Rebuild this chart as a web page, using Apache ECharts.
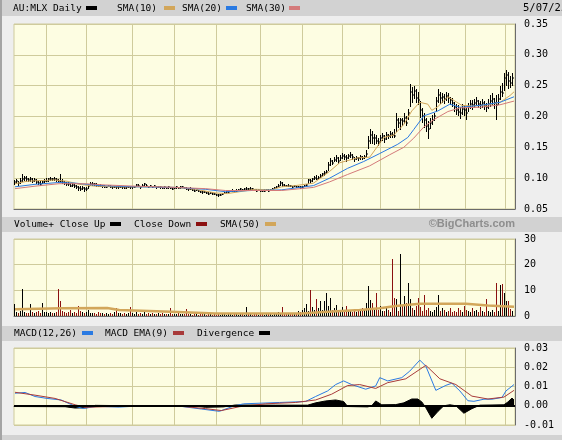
<!DOCTYPE html>
<html><head><meta charset="utf-8">
<script src="https://cdn.jsdelivr.net/npm/echarts@6/dist/echarts.min.js"></script>
<style>html,body{margin:0;padding:0;background:#eeeeee}#c{width:562px;height:440px}</style>
</head><body><div id="c"></div>
<script>
// ---- data ----
const monthStarts = [16,36,59,80,101,123,144,164,183,202,225,245];
const high = [
.097,.099,.096,.100,.107,.104,.103,.101,.102,.100,
.101,.098,.096,.095,.096,.099,.100,.101,.102,.101,
.102,.101,.099,.107,.099,.095,.094,.093,.092,.092,
.090,.089,.088,.087,.087,.086,.086,.091,.093,.093,
.092,.092,.091,.090,.089,.089,.088,.089,.089,.088,
.088,.087,.087,.088,.087,.086,.087,.088,.087,.087,
.088,.091,.090,.088,.090,.092,.091,.088,.089,.088,
.089,.088,.088,.087,.086,.087,.086,.087,.086,.085,
.086,.087,.086,.087,.088,.086,.085,.084,.085,.083,
.082,.083,.081,.080,.079,.080,.078,.077,.078,.077,
.076,.075,.074,.075,.076,.078,.079,.080,.081,.082,
.081,.082,.083,.084,.083,.084,.085,.084,.085,.084,
.083,.082,.083,.082,.081,.082,.083,.082,.083,.084,
.086,.088,.090,.095,.093,.090,.089,.090,.089,.088,
.089,.088,.088,.087,.088,.089,.091,.099,.099,.101,
.103,.105,.104,.107,.109,.111,.113,.126,.133,.130,
.135,.137,.134,.138,.141,.139,.137,.140,.142,.139,
.135,.136,.135,.137,.136,.138,.145,.168,.179,.176,
.172,.170,.165,.170,.174,.170,.175,.172,.176,.175,
.180,.206,.198,.198,.198,.205,.200,.212,.253,.248,
.250,.245,.240,.225,.214,.205,.198,.192,.198,.202,
.206,.232,.245,.240,.238,.236,.240,.238,.232,.230,
.224,.220,.218,.215,.220,.218,.214,.222,.226,.226,
.228,.232,.226,.225,.228,.225,.222,.228,.235,.238,
.230,.235,.236,.250,.255,.270,.276,.272,.265,.270];
const low = [
.089,.090,.088,.091,.093,.095,.094,.093,.094,.092,
.093,.090,.089,.088,.090,.092,.093,.094,.096,.095,
.096,.094,.093,.093,.090,.089,.088,.087,.085,.086,
.084,.083,.080,.079,.081,.078,.080,.083,.087,.088,
.087,.086,.085,.085,.084,.084,.084,.085,.084,.083,
.084,.083,.083,.084,.083,.082,.083,.084,.083,.083,
.084,.085,.085,.083,.085,.087,.086,.084,.085,.084,
.085,.083,.084,.083,.082,.083,.082,.083,.082,.081,
.082,.083,.082,.083,.084,.082,.081,.080,.081,.079,
.078,.079,.077,.076,.075,.076,.074,.073,.074,.073,
.072,.071,.070,.071,.072,.074,.075,.076,.077,.078,
.077,.078,.079,.080,.079,.080,.081,.080,.081,.080,
.079,.078,.079,.078,.077,.078,.079,.078,.079,.080,
.082,.084,.085,.087,.086,.086,.085,.086,.085,.084,
.085,.084,.084,.083,.084,.085,.086,.090,.091,.094,
.097,.097,.098,.100,.102,.104,.106,.112,.120,.121,
.126,.127,.123,.128,.131,.129,.127,.131,.133,.129,
.127,.129,.128,.130,.129,.131,.134,.148,.155,.155,
.153,.155,.152,.157,.160,.157,.162,.163,.165,.165,
.165,.175,.182,.178,.184,.188,.184,.195,.215,.222,
.228,.222,.218,.198,.190,.182,.175,.164,.180,.186,
.192,.208,.222,.220,.222,.220,.225,.222,.218,.215,
.208,.202,.200,.196,.203,.200,.195,.208,.212,.210,
.214,.217,.213,.212,.214,.210,.208,.212,.216,.218,
.212,.194,.218,.226,.232,.242,.250,.245,.246,.250];
const close = [
.093,.095,.092,.096,.098,.100,.099,.097,.098,.096,
.097,.094,.092,.091,.093,.095,.096,.098,.099,.098,
.099,.097,.096,.095,.094,.092,.091,.090,.088,.089,
.087,.086,.084,.083,.084,.082,.083,.088,.090,.091,
.090,.089,.088,.087,.087,.086,.086,.087,.086,.085,
.086,.085,.085,.086,.085,.084,.085,.086,.085,.085,
.086,.089,.087,.085,.088,.090,.088,.086,.087,.086,
.087,.085,.086,.085,.084,.085,.084,.085,.084,.083,
.084,.085,.084,.085,.086,.084,.083,.082,.083,.081,
.080,.081,.079,.078,.077,.078,.076,.075,.076,.075,
.074,.073,.072,.073,.074,.076,.077,.078,.079,.080,
.079,.080,.081,.082,.081,.082,.083,.082,.083,.082,
.081,.080,.081,.080,.079,.080,.081,.080,.081,.082,
.084,.086,.088,.092,.089,.088,.087,.088,.087,.086,
.087,.086,.086,.085,.086,.087,.089,.097,.095,.098,
.100,.099,.101,.104,.106,.108,.110,.122,.128,.125,
.130,.132,.128,.133,.136,.134,.132,.136,.138,.134,
.131,.133,.132,.134,.133,.135,.140,.160,.170,.165,
.165,.160,.158,.165,.168,.163,.170,.168,.172,.170,
.168,.195,.190,.194,.192,.198,.190,.205,.240,.235,
.242,.230,.226,.210,.200,.195,.185,.180,.190,.195,
.200,.225,.235,.230,.232,.228,.234,.230,.226,.222,
.215,.210,.208,.205,.212,.210,.205,.215,.220,.218,
.222,.225,.220,.218,.222,.217,.215,.220,.225,.228,
.222,.218,.228,.240,.238,.262,.268,.258,.255,.262];
const volume = [
4.8,1.5,1.2,2.0,10.7,1.6,1.3,1.1,4.5,1.4,
1.2,1.5,1.8,1.3,5.2,1.7,1.4,1.2,1.6,1.1,
1.3,1.4,10.7,6.0,1.8,1.5,1.2,1.6,2.2,1.3,
1.5,1.2,3.9,1.8,1.4,1.1,1.6,2.5,1.3,1.0,
1.2,0.9,1.4,1.1,1.0,0.8,1.3,0.9,1.2,0.8,
1.4,3.2,1.0,1.3,0.9,1.1,0.8,1.2,3.4,1.0,
0.9,1.5,0.8,1.1,0.9,1.4,0.7,1.0,0.8,1.2,
0.9,0.7,1.0,0.8,1.1,0.6,0.9,0.8,3.0,0.7,
0.8,0.6,1.0,0.7,0.9,0.6,2.6,0.8,0.7,0.5,
0.6,0.8,0.5,0.7,0.6,0.9,0.5,0.6,0.7,0.4,
0.6,0.5,0.7,0.4,0.6,0.8,0.5,0.7,0.6,0.5,
0.7,0.6,0.5,0.8,0.6,0.5,3.6,0.7,0.6,0.5,
0.6,0.8,0.5,0.7,0.6,0.5,0.7,0.6,0.8,0.5,
0.9,1.2,1.5,1.0,3.5,0.8,1.1,0.9,1.3,0.7,
1.0,1.3,2.0,1.5,2.5,3.0,4.5,2.0,10.0,3.5,
2.5,6.7,3.0,5.8,2.2,5.8,8.8,4.0,7.0,2.5,
3.0,4.3,2.0,1.5,3.5,2.0,4.0,1.8,2.5,1.5,
2.0,1.5,2.5,1.8,3.0,2.2,5.0,11.6,6.1,5.0,
3.0,8.8,2.5,4.0,2.0,1.8,3.0,2.5,1.5,22.3,
7.1,6.5,2.0,24.0,4.0,7.8,5.0,12.7,6.7,3.0,
2.5,4.0,7.1,3.5,2.0,8.0,2.5,3.0,2.0,1.5,
2.5,3.5,8.0,2.0,3.0,2.5,1.5,2.0,3.0,1.5,
2.0,1.5,3.0,2.5,1.5,4.0,2.5,2.0,1.5,3.0,
2.0,2.5,1.5,3.5,2.0,1.5,6.7,2.0,1.5,2.5,
1.5,12.7,2.0,11.9,12.3,9.0,5.8,6.0,2.6,2.0];
// indicator lines read at sampled days: [dayIndex, value]
const sma10 = [[0,.091],[6,.095],[12,.096],[20,.097],[26,.095],[32,.090],[40,.087],[50,.086],[60,.086],[70,.086],[80,.085],[90,.082],[100,.076],[106,.075],[112,.078],[120,.082],[128,.081],[133,.086],[140,.088],[149,.092],[157,.111],[162,.125],[171,.133],[177,.134],[181,.152],[184,.166],[189,.170],[194,.187],[198,.209],[202,.223],[206,.220],[208,.210],[211,.216],[216,.232],[219,.226],[223,.218],[229,.217],[236,.219],[242,.223],[247,.234],[249,.240]];
const sma20 = [[0,.086],[10,.090],[22,.093],[30,.092],[42,.088],[60,.086],[80,.085],[95,.082],[105,.078],[118,.080],[133,.081],[149,.088],[157,.100],[166,.116],[174,.127],[182,.140],[191,.155],[196,.166],[199,.179],[204,.201],[211,.209],[217,.220],[222,.215],[232,.218],[242,.223],[249,.232]];
const sma30 = [[0,.083],[10,.087],[22,.091],[35,.091],[45,.089],[60,.087],[80,.085],[95,.083],[105,.080],[118,.080],[133,.080],[149,.085],[157,.094],[166,.106],[177,.120],[187,.138],[194,.150],[199,.165],[204,.183],[209,.195],[216,.208],[222,.214],[232,.215],[242,.219],[249,.225]];
const volSma50 = [[0,2.6],[23,3.0],[46,3.1],[52,2.3],[78,1.7],[100,1.0],[143,1.0],[154,1.6],[172,2.3],[182,3.0],[190,3.9],[202,4.8],[225,4.8],[236,4.1],[249,3.6]];
const macd = [[0,.0065],[5,.0069],[10,.0048],[16,.0038],[23,.0030],[30,-.0003],[34,-.0014],[41,-.0003],[52,-.0007],[64,.0000],[82,-.0002],[93,-.0017],[102,-.0029],[109,-.0002],[114,.0010],[132,.0017],[145,.0022],[150,.0048],[156,.0077],[160,.0110],[164,.0129],[168,.0110],[175,.0086],[180,.0103],[182,.0146],[186,.0129],[193,.0146],[197,.0180],[202,.0237],[205,.0206],[210,.0080],[215,.0106],[218,.0117],[222,.0077],[226,.0026],[229,.0023],[234,.0034],[238,.0034],[243,.0043],[245,.0077],[249,.0110]];
const macdSignal = [[0,.0070],[10,.0055],[20,.0038],[30,.0005],[35,-.0008],[45,-.0005],[60,-.0003],[80,.0000],[95,-.0015],[103,-.0025],[112,-.0005],[125,.0010],[140,.0017],[150,.0030],[158,.0060],[166,.0105],[172,.0110],[180,.0090],[186,.0120],[195,.0140],[205,.0210],[212,.0140],[220,.0110],[228,.0050],[236,.0035],[244,.0045],[249,.0080]];
const divergence = [[0,-.0004],[25,-.0005],[30,-.0012],[36,-.0010],[40,.0002],[60,.0000],[90,-.0002],[95,-.0008],[104,-.0006],[110,.0004],[130,.0003],[146,.0003],[150,.0015],[155,.0025],[160,.0030],[164,.0022],[166,-.0004],[176,-.0006],[178,.0000],[180,.0025],[183,.0005],[190,.0006],[194,.0015],[198,.0035],[201,.0035],[203,.0020],[205,-.0010],[208,-.0065],[211,-.0030],[214,.0000],[217,.0005],[220,.0000],[224,-.0039],[228,-.0015],[232,.0003],[244,.0005],[246,.0020],[248,.0040],[249,.0030]];
const priceAxis = [0.05, 0.35, 0.05];
const volumeAxis = [0, 30, 10];
const macdAxis = [-0.01, 0.03, 0.01];

// ---- chart ----
const days = close.map((_, i) => i);
const ohlc = close.map((c, i) => [i, high[i], low[i], c]);
const volData = volume.map((v, i) => [i, v, (i > 0 && close[i] < close[i - 1]) ? 1 : 0]);

const GRIDC = '#cfcb9c', BG = '#fdfde2', BORDER = '#6b6b6b';
const MONO = '"DejaVu Sans Mono", monospace';
const chart = echarts.init(document.getElementById('c'), null, {renderer: 'canvas'});

function xAx(g) {
  return {type: 'category', gridIndex: g, data: days, boundaryGap: true,
    axisLabel: {show: false}, axisTick: {show: false},
    axisLine: {show: true, lineStyle: {color: BORDER, width: 1}},
    splitLine: {show: true, interval: (idx) => monthStarts.includes(idx), lineStyle: {color: GRIDC, width: 1}}};
}
function yAx(g, r, fmt) {
  return {type: 'value', gridIndex: g, position: 'right', min: r[0], max: r[1], interval: r[2],
    axisLine: {show: true, lineStyle: {color: BORDER, width: 1}}, axisTick: {show: false},
    splitLine: {show: true, lineStyle: {color: GRIDC, width: 1}},
    axisLabel: {margin: 9, color: '#000', fontFamily: MONO, fontSize: 10, formatter: fmt}};
}
const fmt2 = (v) => { let s = (+v).toFixed(2); return s === '-0.00' ? '0.00' : s; };

function ohlcItem(params, api) {
  const i = api.value(0);
  const pH = api.coord([i, api.value(1)]);
  const pL = api.coord([i, api.value(2)]);
  const pC = api.coord([i, api.value(3)]);
  const x = Math.floor(pH[0]) - 1;
  const yT = Math.round(pH[1]), yB = Math.round(pL[1]);
  return {type: 'group', children: [
    {type: 'rect', shape: {x: x, y: yT, width: 1, height: Math.max(1, yB - yT)}, style: {fill: '#000'}},
    {type: 'rect', shape: {x: x + 1, y: Math.round(pC[1]) - 0.5, width: 1, height: 1}, style: {fill: '#000'}}
  ]};
}
function volItem(params, api) {
  const i = api.value(0);
  const pT = api.coord([i, api.value(1)]);
  const p0 = api.coord([i, 0]);
  const x = Math.floor(pT[0]) - 1;
  const yT = Math.round(pT[1]), yB = Math.round(p0[1]);
  return {type: 'rect', shape: {x: x, y: yT, width: 1, height: Math.max(1, yB - yT)},
    style: {fill: api.value(2) ? '#8b1010' : '#000'}};
}
function line(name, data, xi, color, w) {
  return {name, type: 'line', xAxisIndex: xi, yAxisIndex: xi, data, symbol: 'none',
    lineStyle: {color, width: w}, itemStyle: {color}, silent: true, animation: false, z: 3};
}

const txt = (x, y, s, f) => ({type: 'text', left: x, top: y, silent: true,
  style: {text: s, fill: '#000', font: (f || '9.5px ') + MONO}});
const sw = (x, y, c) => ({type: 'rect', silent: true, shape: {x: x, y: y, width: 11, height: 4}, style: {fill: c}});
const band = (y, h) => ({type: 'rect', silent: true, z: -10, shape: {x: 0, y: y, width: 562, height: h}, style: {fill: '#d2d2d2'}});

const option = {
  animation: false,
  backgroundColor: '#eeeeee',
  grid: [
    {left: 14, right: 47, top: 24, height: 185, show: true, backgroundColor: BG, borderColor: GRIDC, borderWidth: 1},
    {left: 14, right: 47, top: 239, height: 77, show: true, backgroundColor: BG, borderColor: GRIDC, borderWidth: 1},
    {left: 14, right: 47, top: 348, height: 77, show: true, backgroundColor: BG, borderColor: GRIDC, borderWidth: 1}
  ],
  xAxis: [xAx(0), xAx(1), xAx(2)],
  yAxis: [yAx(0, priceAxis, fmt2), yAx(1, volumeAxis, (v) => String(v)), yAx(2, macdAxis, fmt2)],
  graphic: [
    band(0, 16), band(217, 15), band(326, 15), band(435, 5),
    {type: 'rect', silent: true, z: 10, shape: {x: 0, y: 0, width: 2, height: 440}, style: {fill: '#a4a4a4'}},
    txt(13, 4, 'AU:MLX Daily'), sw(86, 6, '#000'),
    txt(117, 4, 'SMA(10)'), sw(164, 6, '#d2a65a'),
    txt(182, 4, 'SMA(20)'), sw(226, 6, '#2a7ae2'),
    txt(246, 4, 'SMA(30)'), sw(289, 6, '#d47a7a'),
    txt(523, 3, '5/07/25', '10.5px '),
    txt(14, 220, 'Volume+ Close Up'), sw(110, 222, '#000'),
    txt(134, 220, 'Close Down'), sw(196, 222, '#8b1010'),
    txt(220, 220, 'SMA(50)'), sw(265, 222, '#d2a65a'),
    {type: 'text', right: 47, top: 218, silent: true, style: {text: '©BigCharts.com', fill: '#8e8e8e', font: 'bold 11px "Liberation Sans", sans-serif'}},
    txt(14, 329, 'MACD(12,26)'), sw(82, 331, '#2a7ae2'),
    txt(105, 329, 'MACD EMA(9)'), sw(173, 331, '#a83a3a'),
    txt(197, 329, 'Divergence'), sw(259, 331, '#000')
  ],
  series: [
    {name: 'AU:MLX', type: 'custom', xAxisIndex: 0, yAxisIndex: 0, data: ohlc, renderItem: ohlcItem, z: 2, silent: true,
      encode: {x: 0, y: [1, 2, 3]}},
    line('SMA(10)', sma10, 0, '#d2a65a', 1),
    line('SMA(20)', sma20, 0, '#2a7ae2', 1),
    line('SMA(30)', sma30, 0, '#d47a7a', 1),
    {name: 'Volume', type: 'custom', xAxisIndex: 1, yAxisIndex: 1, data: volData, renderItem: volItem, z: 2, silent: true,
      encode: {x: 0, y: 1}},
    line('SMA(50)', volSma50, 1, '#d2a65a', 2.5),
    {name: 'Divergence', type: 'line', xAxisIndex: 2, yAxisIndex: 2, data: divergence, symbol: 'none', silent: true, z: 2,
      lineStyle: {color: '#000', width: 1}, areaStyle: {color: '#000', opacity: 1, origin: 0},
      markLine: {silent: true, symbol: 'none', label: {show: false}, lineStyle: {color: '#000', width: 2, type: 'solid'}, data: [{yAxis: 0}]}},
    line('MACD(12,26)', macd, 2, '#2a7ae2', 1),
    line('MACD EMA(9)', macdSignal, 2, '#a83a3a', 1)
  ]
};
chart.setOption(option);
</script></body></html>
